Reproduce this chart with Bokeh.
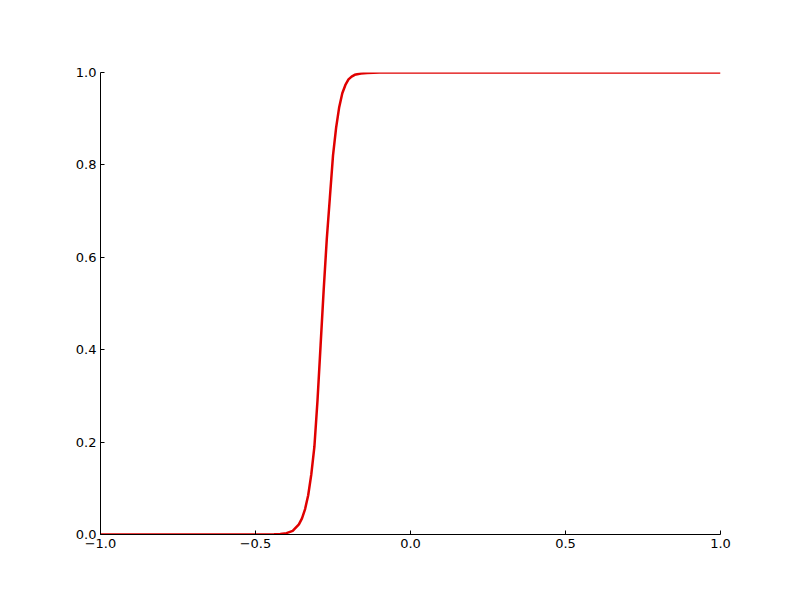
from bokeh.plotting import figure
from bokeh.models import Range1d, FixedTicker
from bokeh.embed import file_html
from bokeh.resources import INLINE

# data
x_vals = [-1.0, -0.5, -0.44, -0.42, -0.40, -0.38, -0.36, -0.35, -0.34, -0.33, -0.32, -0.31,
          -0.30, -0.29, -0.28, -0.27, -0.26, -0.25, -0.24, -0.23, -0.22, -0.21,
          -0.20, -0.19, -0.18, -0.16, -0.14, -0.10, 0.0, 0.5, 1.0]
y_vals = [0.0, 0.0, 0.0005, 0.001, 0.003, 0.008, 0.022, 0.035, 0.055, 0.085, 0.13, 0.19,
          0.29, 0.41, 0.53, 0.64, 0.73, 0.82, 0.88, 0.925, 0.955, 0.973,
          0.985, 0.991, 0.995, 0.998, 0.999, 1.0, 1.0, 1.0, 1.0]
x_ticks = [-1.0, -0.5, 0.0, 0.5, 1.0]
x_tick_labels = ["\u22121.0", "\u22120.5", "0.0", "0.5", "1.0"]
y_ticks = [0.0, 0.2, 0.4, 0.6, 0.8, 1.0]
y_tick_labels = ["0.0", "0.2", "0.4", "0.6", "0.8", "1.0"]

p = figure(width=784, height=584, output_backend="svg", toolbar_location=None,
           x_range=Range1d(-1, 1), y_range=Range1d(0, 1),
           min_border_left=100, min_border_right=64, min_border_top=72, min_border_bottom=50)
p.outline_line_color = None
p.xgrid.visible = False
p.ygrid.visible = False
p.background_fill_color = "white"
p.border_fill_color = "white"

p.line(x_vals, y_vals, line_color="#e00000", line_width=2.5)

for ax, ticks, labels in ((p.xaxis[0], x_ticks, x_tick_labels), (p.yaxis[0], y_ticks, y_tick_labels)):
    ax.ticker = FixedTicker(ticks=ticks)
    ax.major_label_overrides = {t: l for t, l in zip(ticks, labels)}
    ax.minor_tick_line_color = None
    ax.major_tick_in = 4
    ax.major_tick_out = 0
    ax.axis_line_color = "black"
    ax.major_tick_line_color = "black"
    ax.major_label_text_font = "DejaVu Sans"
    ax.major_label_text_font_size = "13px"
    ax.major_label_text_color = "black"
    ax.major_label_standoff = 4

out = file_html(p, INLINE)
open("out.html", "w").write(out)
